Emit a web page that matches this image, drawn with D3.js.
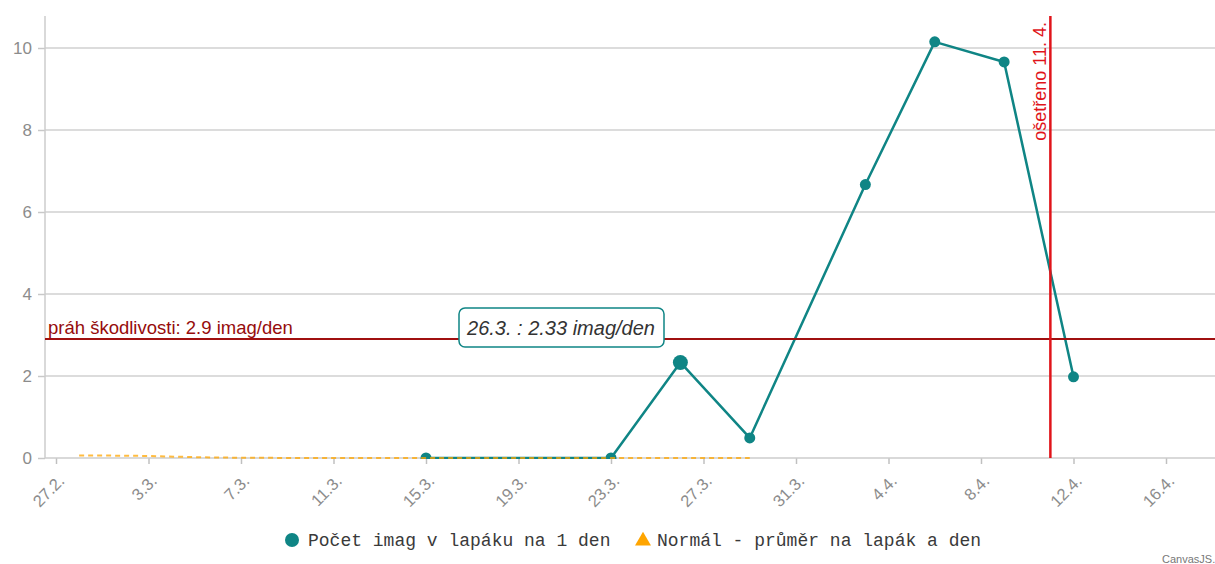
<!DOCTYPE html>
<html>
<head>
<meta charset="utf-8">
<script src="https://cdn.jsdelivr.net/npm/d3@7/dist/d3.min.js"></script>
<style>
html,body{margin:0;padding:0;background:#fff;overflow:hidden;}
svg{display:block;}
</style>
</head>
<body>
<svg id="chart" width="1215" height="564"></svg>
<script>
// ---- data ----
const countDates  = ["2019-03-15","2019-03-23","2019-03-26","2019-03-29","2019-04-03","2019-04-06","2019-04-09","2019-04-12"];
const countValues = [0, 0, 2.33, 0.49, 6.67, 10.15, 9.66, 1.98];
const normDates   = ["2019-02-28","2019-03-01","2019-03-03","2019-03-05","2019-03-07","2019-03-11","2019-03-15","2019-03-19","2019-03-23","2019-03-27","2019-03-29"];
const normValues  = [0.06, 0.06, 0.05, 0.02, 0.005, 0, 0, 0, 0, 0, 0];
const yTicks      = [0, 2, 4, 6, 8, 10];
const xTickLabels = ["27.2.","3.3.","7.3.","11.3.","15.3.","19.3.","23.3.","27.3.","31.3.","4.4.","8.4.","12.4.","16.4."];
const threshold   = 2.9;
const thresholdLabel = "práh škodlivosti: 2.9 imag/den";
const treatDate   = "2019-04-11";
const treatLabel  = "ošetřeno 11. 4.";
const tooltipIndex = 2;
const tooltipText = "26.3. : 2.33 imag/den";
const legendNames = ["Počet imag v lapáku na 1 den", "Normál - průměr na lapák a den"];

(function () {
const teal = "#0f8585", orange = "#ffa500";
const parse = s => new Date(s + "T00:00:00Z");
const sans = "Arial, 'Liberation Sans', sans-serif";

const svg = d3.select("#chart");
const pL = 45, pR = 1215, pT = 16, pB = 458;

const x = d3.scaleUtc().domain([parse("2019-02-27"), parse("2019-04-16")]).range([56, 1166]);
const y = d3.scaleLinear().domain([0, 10]).range([pB, 48]);

// grid
svg.append("g").selectAll("line").data(yTicks.filter(d => d > 0)).join("line")
  .attr("x1", pL).attr("x2", pR).attr("y1", d => y(d)).attr("y2", d => y(d))
  .attr("stroke", "#d0d0d0").attr("stroke-width", 1.5);

// y axis
const yAxis = svg.append("g").attr("transform", `translate(${pL},0)`)
  .call(d3.axisLeft(y).tickValues(yTicks).tickSize(7).tickPadding(6).tickFormat(d3.format("d")));
yAxis.select(".domain").remove();
yAxis.selectAll(".tick line").attr("stroke", "#c8c8c8").attr("stroke-width", 1.5);
yAxis.selectAll("text").attr("fill", "#8c8c8c").style("font", "17px " + sans);
svg.append("line").attr("x1", pL).attr("x2", pL).attr("y1", pT).attr("y2", pB)
  .attr("stroke", "#cccccc").attr("stroke-width", 1.5);

// x axis
const tickDates = xTickLabels.map((_, i) => d3.utcDay.offset(parse("2019-02-27"), i * 4));
const xAxis = svg.append("g").attr("transform", `translate(0,${pB})`)
  .call(d3.axisBottom(x).tickValues(tickDates).tickSize(6).tickFormat((d, i) => xTickLabels[i]));
xAxis.select(".domain").remove();
xAxis.selectAll(".tick line").attr("stroke", "#c0c0c0").attr("stroke-width", 1.5);
xAxis.selectAll("text").attr("fill", "#8c8c8c").style("font", "16.5px " + sans)
  .attr("text-anchor", "end").attr("x", 0).attr("y", 0).attr("dy", "0.35em")
  .attr("transform", "translate(5,20) rotate(-45)");
svg.append("line").attr("x1", pL).attr("x2", pR).attr("y1", pB).attr("y2", pB)
  .attr("stroke", "#cccccc").attr("stroke-width", 1.5);

// clip
svg.append("clipPath").attr("id", "plot").append("rect")
  .attr("x", pL).attr("y", pT).attr("width", pR - pL).attr("height", pB - pT + 1);
const plot = svg.append("g").attr("clip-path", "url(#plot)");

// count series
const countData = countDates.map((d, i) => ({date: parse(d), v: countValues[i]}));
const line = d3.line().x(d => x(d.date)).y(d => y(d.v));
plot.append("path").datum(countData).attr("d", line)
  .attr("fill", "none").attr("stroke", teal).attr("stroke-width", 2.5).attr("stroke-linejoin", "round");
plot.selectAll("circle.pt").data(countData).join("circle").attr("class", "pt")
  .attr("cx", d => x(d.date)).attr("cy", d => y(d.v))
  .attr("r", (d, i) => i === tooltipIndex ? 7.5 : 5.5).attr("fill", teal);

// norm series
const normData = normDates.map((d, i) => ({date: parse(d), v: normValues[i]}));
svg.append("path").datum(normData).attr("d", line)
  .attr("fill", "none").attr("stroke", orange).attr("stroke-opacity", 0.75).attr("stroke-width", 2).attr("stroke-dasharray", "5,4");

// threshold
svg.append("line").attr("x1", pL).attr("x2", pR).attr("y1", y(threshold)).attr("y2", y(threshold))
  .attr("stroke", "#a01010").attr("stroke-width", 2);
svg.append("text").attr("x", 48).attr("y", y(threshold) - 5).text(thresholdLabel)
  .attr("fill", "#960c0c").style("font", "18.5px " + sans);

// treatment line
const tx = x(parse(treatDate));
svg.append("line").attr("x1", tx).attr("x2", tx).attr("y1", pT).attr("y2", pB)
  .attr("stroke", "#e0141a").attr("stroke-width", 2.5);
svg.append("text").attr("transform", `translate(${tx - 4},${pT + 6}) rotate(-90)`)
  .attr("text-anchor", "end").text(treatLabel)
  .attr("fill", "#e0141a").style("font", "18px " + sans);

// tooltip
const tt = svg.append("g");
tt.append("rect").attr("x", 459).attr("y", 308).attr("width", 205).attr("height", 39).attr("rx", 6)
  .attr("fill", "#fff").attr("stroke", teal).attr("stroke-width", 1.5);
tt.append("text").attr("x", 561).attr("y", 335).attr("text-anchor", "middle").text(tooltipText)
  .attr("fill", "#333").style("font", "italic 20px " + sans);

// legend
const mono = "'Liberation Mono', 'DejaVu Sans Mono', monospace";
const lg = svg.append("g");
lg.append("circle").attr("cx", 292).attr("cy", 540).attr("r", 7).attr("fill", teal);
lg.append("text").attr("x", 308).attr("y", 546).text(legendNames[0])
  .attr("fill", "#3a3a3a").style("font", "18px " + mono);
lg.append("path").attr("d", d3.symbol(d3.symbolTriangle, 110)()).attr("transform", "translate(643,541)").attr("fill", orange);
lg.append("text").attr("x", 657).attr("y", 546).text(legendNames[1])
  .attr("fill", "#3a3a3a").style("font", "18px " + mono);

// credit
svg.append("text").attr("x", 1162).attr("y", 563).text("CanvasJS.com")
  .attr("fill", "#777").style("font", "11px " + sans);
})();
</script>
</body>
</html>
